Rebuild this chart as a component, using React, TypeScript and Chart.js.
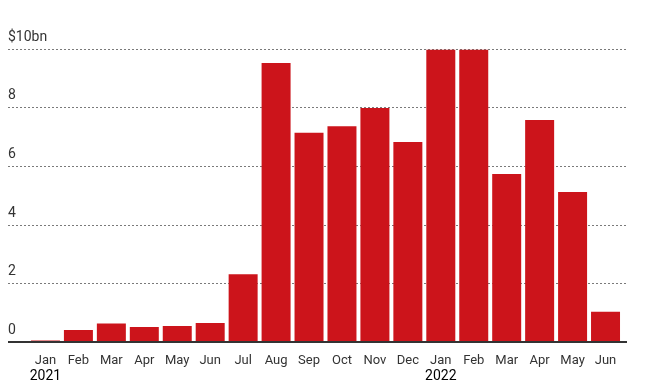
import React, { useEffect, useRef } from "react";
import { Chart, registerables } from "chart.js";

Chart.register(...registerables);

const months = ["Jan", "Feb", "Mar", "Apr", "May", "Jun", "Jul", "Aug", "Sep", "Oct", "Nov", "Dec", "Jan", "Feb", "Mar", "Apr", "May", "Jun"];
const years = ["2021", "", "", "", "", "", "", "", "", "", "", "", "2022", "", "", "", "", ""];
const values = [0.05, 0.41, 0.63, 0.51, 0.55, 0.65, 2.32, 9.54, 7.15, 7.38, 8.0, 6.84, 10.0, 10.0, 5.74, 7.59, 5.13, 1.03];
const yTicks = [0, 2, 4, 6, 8, 10];
const yTickLabels = ["0", "2", "4", "6", "8", "$10bn"];

const FONT = "Roboto, 'Open Sans', sans-serif";
const LINE_LEFT = 8;
const LINE_RIGHT = 627;

const overlay = {
  id: "overlay",
  beforeDatasetsDraw(chart: any) {
    const { ctx, scales } = chart;
    const y = scales.y;
    ctx.save();
    ctx.strokeStyle = "#7a7a7a";
    ctx.lineWidth = 1;
    ctx.setLineDash([2, 2]);
    yTicks.forEach((v) => {
      if (v === 0) return;
      const py = Math.floor(y.getPixelForValue(v)) + 0.5;
      ctx.beginPath();
      ctx.moveTo(LINE_LEFT, py);
      ctx.lineTo(LINE_RIGHT, py);
      ctx.stroke();
    });
    ctx.setLineDash([]);
    ctx.fillStyle = "#333333";
    ctx.font = `14px ${FONT}`;
    ctx.textAlign = "left";
    ctx.textBaseline = "alphabetic";
    yTicks.forEach((v, i) => {
      const py = y.getPixelForValue(v);
      ctx.fillText(yTickLabels[i], LINE_LEFT, Math.round(py - 8.5));
    });
    ctx.restore();
  },
  afterDatasetsDraw(chart: any) {
    const { ctx, scales } = chart;
    const y = scales.y;
    const x = scales.x;
    ctx.save();
    ctx.strokeStyle = "#333333";
    ctx.lineWidth = 2;
    const py = y.getPixelForValue(0);
    ctx.beginPath();
    ctx.moveTo(LINE_LEFT, py);
    ctx.lineTo(LINE_RIGHT, py);
    ctx.stroke();
    ctx.fillStyle = "#000000";
    ctx.font = `14px ${FONT}`;
    ctx.textAlign = "center";
    ctx.textBaseline = "middle";
    years.forEach((yr, i) => {
      if (!yr) return;
      ctx.fillText(yr, x.getPixelForValue(i), 376);
    });
    ctx.restore();
  },
};

export default function App() {
  const ref = useRef<HTMLCanvasElement>(null);
  useEffect(() => {
    const chart = new Chart(ref.current as HTMLCanvasElement, {
      type: "bar",
      data: {
        labels: months,
        datasets: [
          {
            data: values,
            backgroundColor: "#cc141b",
            barPercentage: 0.88,
            categoryPercentage: 1,
          },
        ],
      },
      options: {
        animation: false,
        responsive: true,
        maintainAspectRatio: false,
        layout: { padding: { left: 29, right: 33, top: 49.5, bottom: 7.4 } },
        plugins: { legend: { display: false }, tooltip: { enabled: false } },
        scales: {
          x: {
            grid: { display: false, drawTicks: false },
            border: { display: false },
            ticks: {
              color: "#333333",
              font: { family: FONT, size: 13 },
              padding: 11,
              maxRotation: 0,
              autoSkip: false,
            },
          },
          y: {
            display: false,
            min: 0,
            max: 10,
          },
        },
      },
      plugins: [overlay],
    });
    return () => chart.destroy();
  }, []);
  return (
    <div style={{ position: "fixed", left: 0, top: 0, width: 655, height: 387 }}>
      <canvas ref={ref} />
    </div>
  );
}
